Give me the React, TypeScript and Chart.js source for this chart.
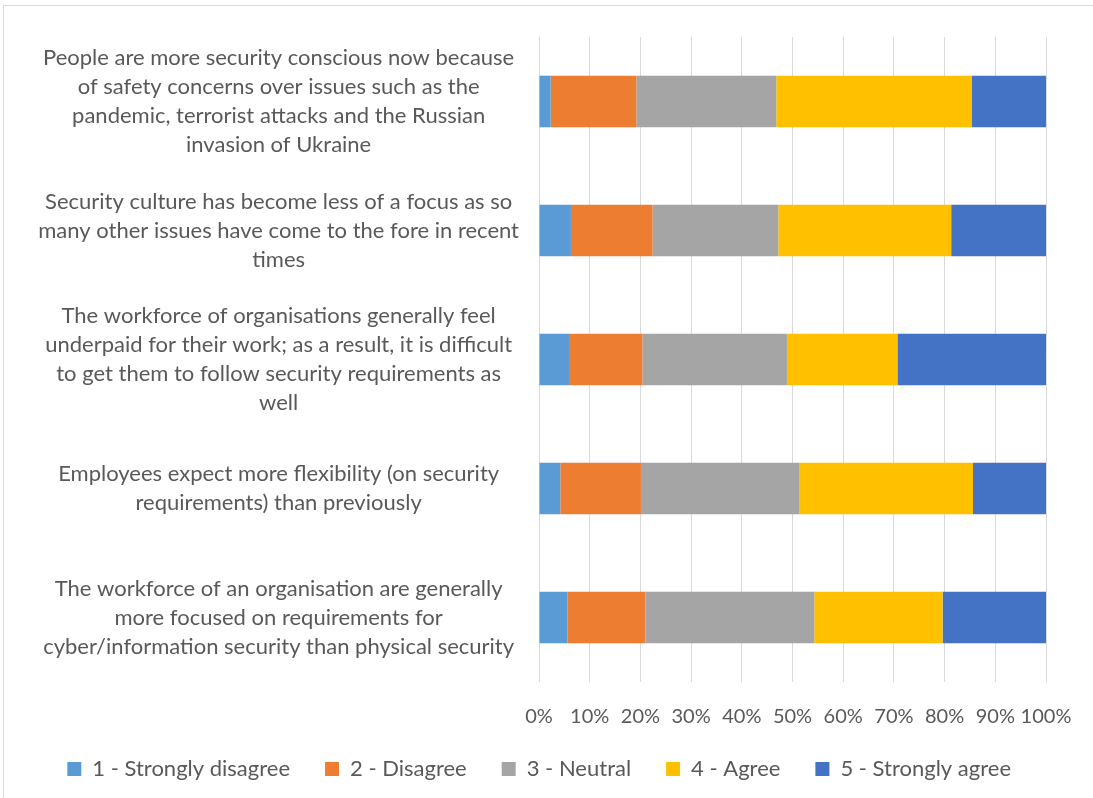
import React, { useEffect, useRef } from "react";
import { Chart, registerables } from "chart.js";

Chart.register(...registerables);

const categories: string[][] = [
  ["People are more security conscious now because", "of safety concerns over issues such as the", "pandemic, terrorist attacks and the Russian", "invasion of Ukraine"],
  ["Security culture has become less of a focus as so", "many other issues have come to the fore in recent", "times"],
  ["The workforce of organisations generally feel", "underpaid for their work; as a result, it is difficult", "to get them to follow security requirements as", "well"],
  ["Employees expect more flexibility (on security", "requirements) than previously"],
  ["The workforce of an organisation are generally", "more focused on requirements for", "cyber/information security than physical security"],
];

const seriesNames = ["1 - Strongly disagree", "2 - Disagree", "3 - Neutral", "4 - Agree", "5 - Strongly agree"];
const stronglyDisagree = [2.3, 6.3, 6.1, 4.2, 5.6];
const disagree = [16.9, 16.1, 14.3, 15.9, 15.4];
const neutral = [27.6, 24.8, 28.5, 31.3, 33.3];
const agree = [38.6, 34.1, 21.8, 34.2, 25.3];
const stronglyAgree = [14.6, 18.7, 29.3, 14.4, 20.4];
const colors = ["#5B9BD5", "#ED7D31", "#A5A5A5", "#FFC000", "#4472C4"];

const FONT = "Lato, 'Open Sans', sans-serif";
const TEXT = "#595959";

export default function App() {
  const ref = useRef<HTMLCanvasElement>(null);
  useEffect(() => {
    if (!ref.current) return;
    const values = [stronglyDisagree, disagree, neutral, agree, stronglyAgree];
    const chart = new Chart(ref.current, {
      type: "bar",
      data: {
        labels: categories as any,
        datasets: values.map((v, i) => ({
          label: seriesNames[i],
          data: v,
          backgroundColor: colors[i],
          borderWidth: 0,
          categoryPercentage: 1,
          barPercentage: 0.4,
        })),
      },
      options: {
        indexAxis: "y",
        animation: false,
        responsive: false,
        layout: { padding: { top: 37, right: 47, left: 0, bottom: 8 } },
        scales: {
          x: {
            stacked: true,
            min: 0,
            max: 100,
            ticks: {
              stepSize: 10,
              callback: (v: any) => v + "%",
              color: TEXT,
              padding: 23,
              maxRotation: 0,
              autoSkip: false,
              font: { family: FONT, size: 20 },
            },
            grid: { color: "#d9d9d9", drawTicks: false },
            border: { display: false },
            afterFit: (s: any) => {
              s.height = 41;
              s.paddingLeft = 0;
              s.paddingRight = 0;
            },
          },
          y: {
            stacked: true,
            ticks: {
              crossAlign: "center",
              color: TEXT,
              padding: 12,
              font: { family: FONT, size: 22, lineHeight: "29px" as any },
            },
            grid: { display: false },
            border: { display: false },
            afterFit: (s: any) => {
              s.width = 539;
              s.paddingTop = 0;
              s.paddingBottom = 0;
            },
          },
        },
        plugins: {
          legend: {
            position: "bottom",
            align: "end",
            labels: {
              boxWidth: 14,
              boxHeight: 14,
              padding: 35,
              color: TEXT,
              font: { family: FONT, size: 22 },
            },
          },
          tooltip: { enabled: false },
        },
      },
    });
    return () => chart.destroy();
  }, []);
  return (
    <div style={{ position: "fixed", left: 0, top: 0, width: 1093, height: 798, background: "#fff" }}>
      <div style={{ position: "absolute", left: 3, top: 5, width: 1100, height: 800, border: "1px solid #d9d9d9" }} />
      <canvas ref={ref} width={1093} height={798} style={{ position: "absolute", left: 0, top: 0 }} />
    </div>
  );
}
